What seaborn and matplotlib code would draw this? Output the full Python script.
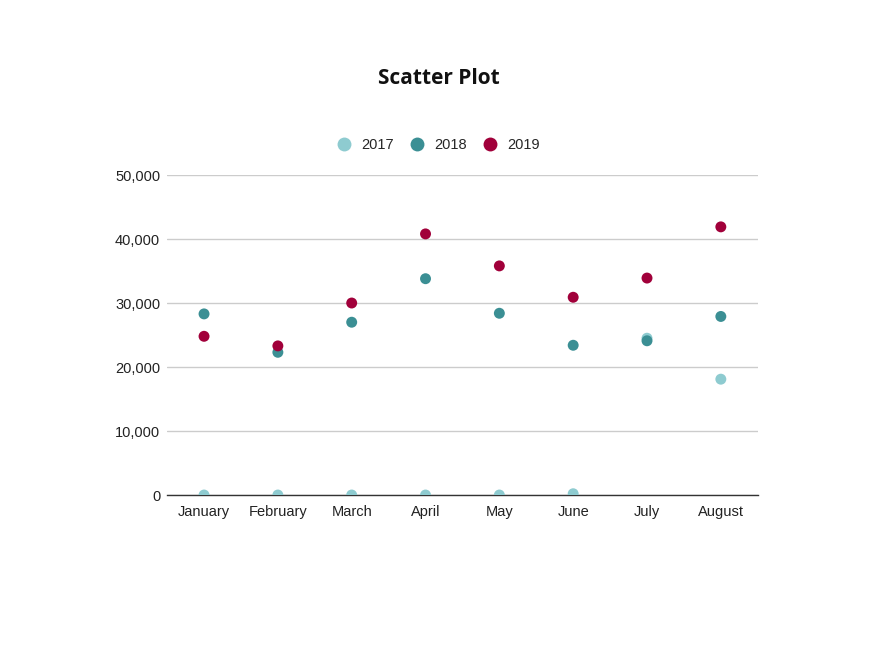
import matplotlib
matplotlib.use("Agg")
import matplotlib.pyplot as plt
import numpy as np
import pandas as pd
import seaborn as sns
from matplotlib.ticker import FuncFormatter

months = ["January", "February", "March", "April", "May", "June", "July", "August"]
y2017 = [0, 0, 0, 0, 0, 200, 24500, 18100]
y2018 = [28300, 22300, 27000, 33800, 28400, 23400, 24100, 27900]
y2019 = [24800, 23300, 30000, 40800, 35800, 30900, 33900, 41900]
years = ["2017", "2018", "2019"]
colors = ["#8ecbd0", "#3b8f94", "#a1003a"]

df = pd.DataFrame({
    "month": months * 3,
    "value": y2017 + y2018 + y2019,
    "year": [y for y in years for _ in months],
})

sns.set_style("white")
plt.rcParams["font.family"] = ["Liberation Sans", "DejaVu Sans"]

fig = plt.figure(figsize=(8.75, 6.56), dpi=100)
ax = fig.add_axes([0.191, 0.2454, 0.675, 0.4878])

sns.scatterplot(data=df, x="month", y="value", hue="year", palette=colors,
                s=62, edgecolor="none", ax=ax, zorder=3, legend=False)

ax.set_xlim(-0.5, len(months) - 0.5)
ax.set_ylim(0, 50000)
ax.set_yticks(np.arange(0, 50001, 10000))
ax.yaxis.set_major_formatter(FuncFormatter(lambda v, p: f"{int(v):,}"))
ax.grid(axis="y", color="#cccccc", linewidth=1)
ax.set_axisbelow(True)
for s in ["top", "right", "left"]:
    ax.spines[s].set_visible(False)
ax.spines["bottom"].set_color("#333333")
ax.spines["bottom"].set_linewidth(1)
ax.spines["bottom"].set_zorder(2)
ax.tick_params(axis="both", length=0, labelsize=10.5, colors="#222222", pad=7)
ax.tick_params(axis="y", pad=5)
ax.set_xlabel("")
ax.set_ylabel("")

handles = [plt.Line2D([], [], marker="o", linestyle="", markersize=10,
                      markerfacecolor=c, markeredgecolor="none", label=y)
           for c, y in zip(colors, years)]
fig.legend(handles=handles, loc="center", bbox_to_anchor=(0.500, 0.779), ncol=3,
           frameon=False, fontsize=10.5, handletextpad=0.6, columnspacing=0.95,
           handlelength=1.2)

fig.text(0.502, 0.880, "Scatter Plot", ha="center", va="center", fontsize=15,
         fontweight="bold", family=["Open Sans", "DejaVu Sans"], color="#111111")

fig.savefig("out.png", dpi=100, facecolor="white")
